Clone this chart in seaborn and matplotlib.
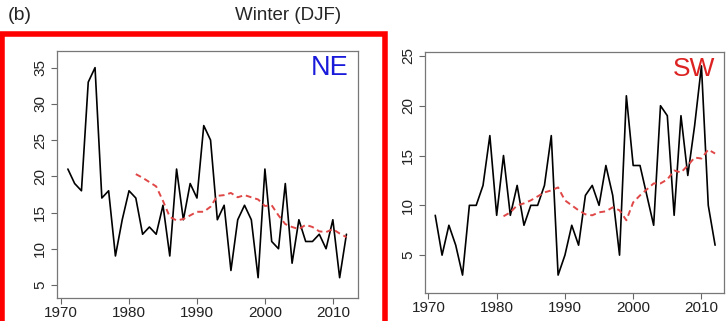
"""Winter (DJF) counts for NE and SW regions with smoothed trend."""

import matplotlib.pyplot as plt
import pandas as pd
import seaborn as sns
from matplotlib.patches import Rectangle

YEARS = list(range(1971, 2013))
TREND_YEARS = list(range(1981, 2013))

NE_COUNTS = [21, 19, 18, 33, 35, 17, 18, 9, 14, 18, 17, 12, 13, 12, 16, 9, 21, 14, 19, 17,
             27, 25, 14, 16, 7, 14, 16, 14, 6, 21, 11, 10, 19, 8, 14, 11, 11, 12, 10, 14, 6, 12]
NE_TREND = [20.3, 19.8, 19.2, 18.6, 16.6, 14.4, 13.9, 14.1, 14.6, 15.1, 15.1, 15.8, 17.3, 17.4,
            17.7, 17.1, 17.4, 17.1, 16.8, 15.9, 16.0, 14.6, 13.4, 13.0, 12.7, 13.3, 13.0, 12.4,
            12.3, 12.7, 12.1, 11.6]

SW_COUNTS = [9, 5, 8, 6, 3, 10, 10, 12, 17, 9, 15, 9, 12, 8, 10, 10, 12, 17, 3, 5,
             8, 6, 11, 12, 10, 14, 11, 5, 21, 14, 14, 11, 8, 20, 19, 9, 19, 13, 18, 24, 10, 6]
SW_TREND = [8.9, 9.3, 10.0, 10.2, 10.5, 10.9, 11.3, 11.5, 11.8, 10.5, 10.0, 9.5, 9.1, 9.0,
            9.3, 9.4, 9.8, 9.5, 8.5, 10.3, 11.0, 11.6, 12.2, 12.2, 12.6, 13.5, 13.3, 14.0,
            14.8, 14.7, 15.6, 15.2]

sns.set_style("white")
plt.rcParams["font.family"] = ["Liberation Sans", "DejaVu Sans"]

TREND_COLOR = "#e04848"


def draw_panel(ax, counts, trend, label, label_color, label_size, ylim, yticks, xlim):
    obs = pd.DataFrame({"year": YEARS, "count": counts})
    smooth = pd.DataFrame({"year": TREND_YEARS, "count": trend})
    sns.lineplot(data=obs, x="year", y="count", ax=ax, color="black", linewidth=1.2)
    sns.lineplot(data=smooth, x="year", y="count", ax=ax, color=TREND_COLOR,
                 linewidth=1.4, linestyle=(0, (3, 2)))
    ax.set_xlim(*xlim)
    ax.set_ylim(*ylim)
    ax.set_xticks([1970, 1980, 1990, 2000, 2010])
    ax.set_yticks(yticks)
    ax.set_xlabel("")
    ax.set_ylabel("")
    ax.tick_params(axis="both", length=4, width=0.8, color="#666666", pad=1.5,
                   labelsize=11, labelcolor="#222222", direction="out", bottom=True, left=True)
    ax.tick_params(axis="y", pad=3)
    for lab in ax.get_yticklabels():
        lab.set_rotation(90)
        lab.set_va("center")
    for spine in ax.spines.values():
        spine.set_color("#777777")
        spine.set_linewidth(0.9)
    ax.text(0.97, 0.93, label, transform=ax.transAxes, ha="right", va="center",
            fontsize=label_size, color=label_color)


fig = plt.figure(figsize=(7.26, 3.21), dpi=100)
ax_ne = fig.add_axes([0.0785, 0.0717, 0.4146, 0.7695])
ax_sw = fig.add_axes([0.5854, 0.0872, 0.4118, 0.751])

draw_panel(ax_ne, NE_COUNTS, NE_TREND, "NE", "#1a1adb", 19.5, (3.2, 37.3),
           [5, 10, 15, 20, 25, 30, 35], (1969.4, 2013.7))
draw_panel(ax_sw, SW_COUNTS, SW_TREND, "SW", "#dd2222", 19, (1.2, 25.4),
           [5, 10, 15, 20, 25], (1969.5, 2013.3))

fig.text(8 / 726, 1 - 15 / 321, "(b)", fontsize=14, ha="left", va="center")
fig.text(288 / 726, 1 - 15 / 321, "Winter (DJF)", fontsize=13.5, ha="center", va="center")

# red highlight frame around the NE panel
fig.patches.append(Rectangle((2 / 726, -0.05), 383 / 726, 1 - 34 / 321 + 0.05,
                             transform=fig.transFigure, fill=False, edgecolor="#ff0000",
                             linewidth=4, clip_on=False))

fig.savefig("out.png", dpi=100)
